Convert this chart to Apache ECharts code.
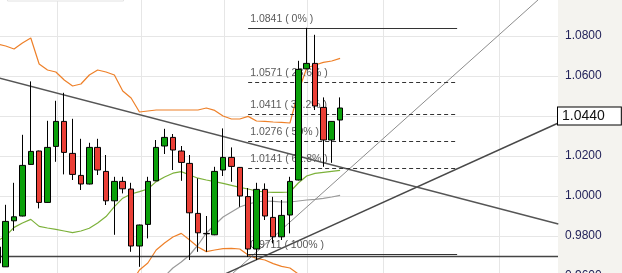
<!DOCTYPE html>
<html><head><meta charset="utf-8">
<script src="https://cdn.jsdelivr.net/npm/echarts@6/dist/echarts.min.js"></script>
<style>
html,body{margin:0;padding:0;background:#fff}
#c{width:622px;height:273px;background:linear-gradient(to right,#ffffff 0,#ffffff 558px,#f4f3ef 558px,#f4f3ef 622px)}
</style>
</head><body><div id="c"></div>
<script>
// candle index positions (day number)
const days = [-1,0,1,2,3,4,5,6,7,8,9,10,11,12,13,14,15,16,17,18,19,20,21,22,23,24,25,26,27,28,29,30,31,32,33,34,35,36,37,38,39,40];
const opens  = [0.9665,0.9646,0.9876,0.9900,1.0158,1.0225,0.9968,1.0248,1.0373,1.0213,1.0103,1.0060,1.0243,1.0123,0.9976,1.0073,1.0035,0.9750,0.9858,1.0076,1.0250,1.0293,1.0225,1.0163,0.9913,0.9813,0.9806,1.0130,1.0193,1.0143,0.9997,0.9735,1.0033,0.9893,0.9796,0.9905,1.0080,1.0636,1.0663,1.0443,1.0280,1.0380];
const closes = [0.9745,0.9873,0.9896,1.0153,1.0223,0.9968,1.0243,1.0373,1.0218,1.0108,1.0060,1.0243,1.0130,0.9976,1.0073,1.0036,0.9750,0.9855,1.0073,1.0243,1.0293,1.0230,1.0168,0.9916,0.9816,0.9811,1.0123,1.0193,1.0148,1.0000,0.9735,1.0033,0.9900,0.9796,0.9903,1.0073,1.0633,1.0663,1.0450,1.0280,1.0373,1.0440];
const lows   = [0.9620,0.9645,0.9826,0.9898,1.0156,0.9938,0.9966,1.0171,1.0108,1.0080,1.0030,1.0058,1.0105,0.9955,0.9806,1.0013,0.9721,0.9646,0.9788,1.0074,1.0210,1.0130,1.0076,0.9680,0.9721,0.9721,0.9804,1.0100,1.0071,0.9946,0.9695,0.9680,0.9880,0.9763,0.9780,0.9813,1.0078,1.0634,1.0430,1.0146,1.0166,1.0271];
const highs  = [0.9760,0.9956,1.0066,1.0306,1.0573,1.0227,1.0376,1.0476,1.0516,1.0386,1.0286,1.0266,1.0286,1.0205,1.0096,1.0096,1.0066,0.9857,1.0096,1.0280,1.0336,1.0310,1.0250,1.0205,1.0088,0.9900,1.0146,1.0338,1.0243,1.0145,1.0040,1.0066,1.0063,0.9996,0.9980,1.0096,1.0676,1.0841,1.0806,1.0493,1.0375,1.0493];
// Bollinger bands / moving averages
const upperBand = [1.0760,1.0750,1.0735,1.0765,1.0790,1.0660,1.0630,1.0620,1.0580,1.0550,1.0560,1.0605,1.0630,1.0620,1.0605,1.0525,1.0490,1.0420,1.0425,1.0430,1.0430,1.0430,1.0430,1.0430,1.0430,1.0440,1.0428,1.0400,1.0385,1.0385,1.0398,1.0375,1.0373,1.0370,1.0368,1.0365,1.0520,1.0640,1.0655,1.0668,1.0675,1.0688];
const midBand   = [0.9775,0.9800,0.9843,0.9865,0.9883,0.9848,0.9840,0.9833,0.9825,0.9817,0.9825,0.9839,0.9865,0.9897,0.9947,0.9989,1.0010,1.0022,1.0035,1.0072,1.0095,1.0114,1.0122,1.0105,1.0089,1.0080,1.0072,1.0063,1.0053,1.0043,1.0035,1.0025,1.0020,1.0018,1.0018,1.0020,1.0065,1.0100,1.0113,1.0118,1.0123,1.0128];
const lowerBand = [0.9000,0.9050,0.9000,0.8950,0.9000,0.9050,0.9050,0.9050,0.9070,0.9080,0.9090,0.9080,0.9100,0.9170,0.9290,0.9450,0.9565,0.9630,0.9665,0.9730,0.9765,0.9795,0.9813,0.9780,0.9745,0.9722,0.9730,0.9737,0.9738,0.9735,0.9705,0.9688,0.9680,0.9662,0.9648,0.9640,0.9610,0.9530,0.9450,0.9400,0.9370,0.9350];
const slowMA    = [null,null,null,null,null,null,null,null,null,null,null,null,null,null,null,null,0.9450,0.9500,0.9530,0.9565,0.9598,0.9640,0.9670,0.9705,0.9755,0.9815,0.9855,0.9895,0.9920,0.9945,0.9960,0.9970,0.9975,0.9973,0.9970,0.9970,0.9975,0.9980,0.9983,0.9988,0.9995,1.0003];
// Fibonacci retracement
const fibLevels = [1.0841,1.0571,1.0411,1.0276,1.0141,0.9711];
const fibLabels = ['1.0841 ( 0% )','1.0571 ( 23.6% )','1.0411 ( 38.2% )','1.0276 ( 50% )','1.0141 ( 61.8% )','0.9711 ( 100% )'];
const fibDashed = [false,true,true,true,true,false];
const fibFrom = 29, fibTo = 54;
// drawn lines
const supportLevel = 0.9719;
const trendA = [[26.8,0.960],[64.2,1.100]];
const trendB = [[25.7,0.960],[66.1,1.0365]];
const trendC = [[-0.7,1.0589],[66.1,0.9860]];
const gridDays = [6.14,16.19,26.11,36.04,45.13,59.0];
const lastPrice = 1.0440;

const pair = (arr) => days.map((d,i) => [d, arr[i]]);
const candleData = days.map((d,i) => [d, opens[i], closes[i], lows[i], highs[i]]);

const fibMarks = fibLevels.map((lv,i) => [
  { coord:[fibFrom, lv],
    lineStyle:{ color:'#333', width:1, type: fibDashed[i] ? [4,3] : 'solid' },
    label:{ show:true, position:'insideStartTop', formatter: fibLabels[i], color:'#5a5a5a', fontSize:10.5,
            fontFamily:'Liberation Sans, Arial, sans-serif', distance:[2,3] } },
  { coord:[fibTo, lv] }
]);

const chart = echarts.init(document.getElementById('c'), null, {renderer:'canvas'});
const font = 'Liberation Sans, Arial, sans-serif';
chart.setOption({
  animation:false,
  backgroundColor:'transparent',
  grid:{ left:0, right:64, top:-4, bottom:-3, containLabel:false, outerBoundsMode:'none' },
  xAxis:{ type:'value', min:-0.682, max:66.065,
    axisLine:{show:false}, axisLabel:{show:false},
    axisTick:{show:false, customValues: gridDays},
    splitLine:{show:true, lineStyle:{color:'#e6e6e6', width:1}} },
  yAxis:{ type:'value', position:'right', min:0.96, max:1.10, interval:0.02,
    axisLine:{show:false}, axisTick:{show:false},
    axisLabel:{ margin:7, color:'#22225a', fontSize:12, fontFamily:font,
      formatter: v => (v > 1.09 ? '' : v.toFixed(4)) },
    splitLine:{show:true, lineStyle:{color:'#e6e6e6', width:1}} },
  graphic:[{ type:'rect', shape:{x:7.5, y:-10, width:116, height:11}, style:{fill:'#fff', stroke:'#e2e2e2', lineWidth:1}, z:10 }],
  series:[
    { type:'line', name:'upper', data:pair(upperBand), showSymbol:false, symbol:'none',
      lineStyle:{color:'#ee8029', width:1.2}, z:3 },
    { type:'line', name:'lower', data:pair(lowerBand), showSymbol:false, symbol:'none',
      lineStyle:{color:'#ee8029', width:1.2}, z:3 },
    { type:'line', name:'mid', data:pair(midBand), showSymbol:false, symbol:'none',
      lineStyle:{color:'#7cb13a', width:1.2}, z:3 },
    { type:'line', name:'slow', data:pair(slowMA), showSymbol:false, symbol:'none', connectNulls:false,
      lineStyle:{color:'#9a9a9a', width:1.2}, z:3 },
    { type:'line', name:'trendA', data:trendA, showSymbol:false, symbol:'none',
      lineStyle:{color:'#8c8c8c', width:1}, z:4 },
    { type:'line', name:'trendB', data:trendB, showSymbol:false, symbol:'none',
      lineStyle:{color:'#484848', width:1.4}, z:4 },
    { type:'line', name:'trendC', data:trendC, showSymbol:false, symbol:'none',
      lineStyle:{color:'#555555', width:1.4}, z:4 },
    { type:'candlestick', name:'price', data:candleData, barWidth:6, z:5,
      itemStyle:{ color:'#0aa00a', color0:'#ea3f36', borderColor:'#000', borderColor0:'#000', borderWidth:1 },
      markLine:{ silent:true, symbol:'none', animation:false,
        data: [
          { yAxis: supportLevel, lineStyle:{color:'#444', width:1.4, type:'solid'}, label:{show:false} },
          ...fibMarks,
          { yAxis: lastPrice, lineStyle:{color:'rgba(0,0,0,0)', width:1},
            label:{ show:true, position:'end', distance:0, formatter: lastPrice.toFixed(4),
              color:'#111', fontSize:14, fontFamily:font, backgroundColor:'#fff',
              borderColor:'#000', borderWidth:1, padding:[2,16,1,4] } }
        ] } }
  ]
});
</script>
</body></html>
